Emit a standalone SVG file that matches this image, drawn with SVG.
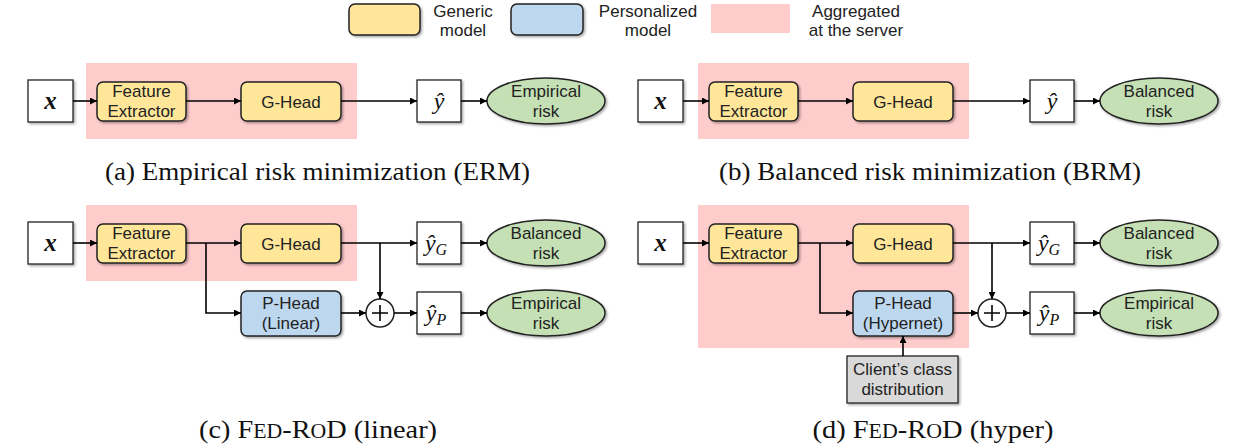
<svg xmlns="http://www.w3.org/2000/svg" width="1244" height="447" viewBox="0 0 1244 447">
<defs>
<marker id="arr" viewBox="0 0 10 10" refX="10" refY="5" markerWidth="7" markerHeight="7" orient="auto" markerUnits="userSpaceOnUse">
<path d="M0,0 L10,5 L0,10 z" fill="#000"/>
</marker>
<filter id="sh" x="-10%" y="-10%" width="130%" height="140%">
<feDropShadow dx="1.5" dy="1.5" stdDeviation="1" flood-color="#000" flood-opacity="0.35"/>
</filter>
</defs>
<style>
.gen{fill:#FFE699;stroke:#222;stroke-width:1.5;filter:url(#sh)}
.per{fill:#BDD7EE;stroke:#222;stroke-width:1.5;filter:url(#sh)}
.agg{fill:#FFCCCC;stroke:none}
.box{fill:#fff;stroke:#222;stroke-width:1.3;filter:url(#sh)}
.risk{fill:#C5E0B4;stroke:#222;stroke-width:1.5;filter:url(#sh)}
.gray{fill:#D9D9D9;stroke:#222;stroke-width:1.3;filter:url(#sh)}
.plus{fill:#fff;stroke:#222;stroke-width:1.5}
.lbl{font-family:"Liberation Sans",Arial,sans-serif;font-size:17px;fill:#222;text-anchor:middle}
.leg{font-family:"Liberation Sans",Arial,sans-serif;font-size:17px;fill:#222;text-anchor:middle}
.cap{font-family:"Liberation Serif","Times New Roman",serif;font-size:26px;fill:#111;text-anchor:middle}
.math{font-family:"Liberation Serif","Times New Roman",serif;font-style:italic;font-size:24px;fill:#111;text-anchor:middle}
.xv{font-family:"Liberation Serif","Times New Roman",serif;font-style:italic;font-weight:bold;font-size:25px;fill:#111;text-anchor:middle}
.ca{fill:none;stroke:#000;stroke-width:1.6;marker-end:url(#arr)}
</style>
<rect width="1244" height="447" fill="#fff"/>

<!-- Legend -->
<g id="legend">
<rect class="gen" x="349" y="4" width="71" height="31" rx="6"/>
<text class="leg" x="463" y="17">Generic</text>
<text class="leg" x="463" y="36">model</text>
<rect class="per" x="511" y="4" width="72" height="31" rx="6"/>
<text class="leg" x="648" y="17">Personalized</text>
<text class="leg" x="648" y="36">model</text>
<rect class="agg" x="711" y="4" width="79" height="29"/>
<text class="leg" x="856" y="17">Aggregated</text>
<text class="leg" x="856" y="36">at the server</text>
</g>

<!-- Panel (a) -->
<g id="a-agg"><rect class="agg" x="86" y="63" width="271" height="76"/></g>
<g id="a-x"><rect class="box" x="28" y="80" width="45" height="42"/><text class="xv" x="50.5" y="109">x</text></g>
<g id="a-fe"><rect class="gen" x="97" y="82" width="89" height="39" rx="6"/><text class="lbl" x="141.5" y="97">Feature</text><text class="lbl" x="141.5" y="117">Extractor</text></g>
<g id="a-gh"><rect class="gen" x="241" y="82" width="100" height="39" rx="6"/><text class="lbl" x="291" y="107.5">G-Head</text></g>
<g id="a-y"><rect class="box" x="417" y="80" width="44" height="42"/><text class="math" x="439" y="109">ŷ</text></g>
<g id="a-risk"><ellipse class="risk" cx="546" cy="101" rx="59" ry="23"/><text class="lbl" x="546" y="97">Empirical</text><text class="lbl" x="546" y="117">risk</text></g>
<g id="a-conn">
<line class="ca" x1="73" y1="101" x2="97" y2="101"/>
<line class="ca" x1="186" y1="101" x2="241" y2="101"/>
<line class="ca" x1="341" y1="101" x2="417" y2="101"/>
<line class="ca" x1="461" y1="101" x2="487" y2="101"/>
</g>
<text class="cap" x="317.5" y="180" textLength="425" lengthAdjust="spacingAndGlyphs">(a) Empirical risk minimization (ERM)</text>

<!-- Panel (b) -->
<g id="b-agg"><rect class="agg" x="698" y="63" width="271" height="76"/></g>
<g id="b-x"><rect class="box" x="638" y="80" width="45" height="42"/><text class="xv" x="660.5" y="109">x</text></g>
<g id="b-fe"><rect class="gen" x="709" y="82" width="89" height="39" rx="6"/><text class="lbl" x="753.5" y="97">Feature</text><text class="lbl" x="753.5" y="117">Extractor</text></g>
<g id="b-gh"><rect class="gen" x="853" y="82" width="100" height="39" rx="6"/><text class="lbl" x="903" y="107.5">G-Head</text></g>
<g id="b-y"><rect class="box" x="1030" y="80" width="44" height="42"/><text class="math" x="1052" y="109">ŷ</text></g>
<g id="b-risk"><ellipse class="risk" cx="1159" cy="101" rx="59" ry="23"/><text class="lbl" x="1159" y="97">Balanced</text><text class="lbl" x="1159" y="117">risk</text></g>
<g id="b-conn">
<line class="ca" x1="683" y1="101" x2="709" y2="101"/>
<line class="ca" x1="798" y1="101" x2="853" y2="101"/>
<line class="ca" x1="953" y1="101" x2="1030" y2="101"/>
<line class="ca" x1="1074" y1="101" x2="1100" y2="101"/>
</g>
<text class="cap" x="930" y="180" textLength="422" lengthAdjust="spacingAndGlyphs">(b) Balanced risk minimization (BRM)</text>

<!-- Panel (c) -->
<g id="c-agg"><rect class="agg" x="86" y="205" width="271" height="76"/></g>
<g id="c-x"><rect class="box" x="28" y="222" width="45" height="42"/><text class="xv" x="50.5" y="251">x</text></g>
<g id="c-fe"><rect class="gen" x="97" y="224" width="89" height="39" rx="6"/><text class="lbl" x="141.5" y="239">Feature</text><text class="lbl" x="141.5" y="259">Extractor</text></g>
<g id="c-gh"><rect class="gen" x="241" y="224" width="100" height="39" rx="6"/><text class="lbl" x="291" y="249.5">G-Head</text></g>
<g id="c-ph"><rect class="per" x="241" y="291" width="100" height="45" rx="6"/><text class="lbl" x="291" y="309">P-Head</text><text class="lbl" x="291" y="329">(Linear)</text></g>
<g id="c-plus"><circle class="plus" cx="380" cy="313" r="14"/><path d="M372,313 H388 M380,305 V321" stroke="#000" stroke-width="1.6"/></g>
<g id="c-yg"><rect class="box" x="417" y="222" width="44" height="42"/><text class="math" x="436" y="251">ŷ<tspan font-size="16" dy="4">G</tspan></text></g>
<g id="c-yp"><rect class="box" x="417" y="292" width="44" height="42"/><text class="math" x="436" y="321">ŷ<tspan font-size="16" dy="4">P</tspan></text></g>
<g id="c-r1"><ellipse class="risk" cx="546" cy="243" rx="59" ry="23"/><text class="lbl" x="546" y="239">Balanced</text><text class="lbl" x="546" y="259">risk</text></g>
<g id="c-r2"><ellipse class="risk" cx="546" cy="313" rx="59" ry="23"/><text class="lbl" x="546" y="309">Empirical</text><text class="lbl" x="546" y="329">risk</text></g>
<g id="c-conn">
<line class="ca" x1="73" y1="243" x2="97" y2="243"/>
<line class="ca" x1="186" y1="243" x2="241" y2="243"/>
<polyline class="ca" points="206,243 206,313 241,313"/>
<line class="ca" x1="341" y1="243" x2="417" y2="243"/>
<line class="ca" x1="380" y1="243" x2="380" y2="299"/>
<line class="ca" x1="341" y1="313" x2="366" y2="313"/>
<line class="ca" x1="394" y1="313" x2="417" y2="313"/>
<line class="ca" x1="461" y1="243" x2="487" y2="243"/>
<line class="ca" x1="461" y1="313" x2="487" y2="313"/>
</g>
<text class="cap" x="318" y="438" textLength="238" lengthAdjust="spacingAndGlyphs">(c) F<tspan font-size="20">ED</tspan>-R<tspan font-size="20">O</tspan>D (linear)</text>

<!-- Panel (d) -->
<g id="d-agg"><rect class="agg" x="698" y="205" width="271" height="143"/></g>
<g id="d-x"><rect class="box" x="638" y="222" width="45" height="42"/><text class="xv" x="660.5" y="251">x</text></g>
<g id="d-fe"><rect class="gen" x="709" y="224" width="89" height="39" rx="6"/><text class="lbl" x="753.5" y="239">Feature</text><text class="lbl" x="753.5" y="259">Extractor</text></g>
<g id="d-gh"><rect class="gen" x="853" y="224" width="100" height="39" rx="6"/><text class="lbl" x="903" y="249.5">G-Head</text></g>
<g id="d-ph"><rect class="per" x="853" y="291" width="100" height="45" rx="6"/><text class="lbl" x="903" y="309">P-Head</text><text class="lbl" x="903" y="329">(Hypernet)</text></g>
<g id="d-plus"><circle class="plus" cx="992" cy="313" r="14"/><path d="M984,313 H1000 M992,305 V321" stroke="#000" stroke-width="1.6"/></g>
<g id="d-yg"><rect class="box" x="1030" y="222" width="44" height="42"/><text class="math" x="1049" y="251">ŷ<tspan font-size="16" dy="4">G</tspan></text></g>
<g id="d-yp"><rect class="box" x="1030" y="292" width="44" height="42"/><text class="math" x="1049" y="321">ŷ<tspan font-size="16" dy="4">P</tspan></text></g>
<g id="d-r1"><ellipse class="risk" cx="1159" cy="243" rx="59" ry="23"/><text class="lbl" x="1159" y="239">Balanced</text><text class="lbl" x="1159" y="259">risk</text></g>
<g id="d-r2"><ellipse class="risk" cx="1159" cy="313" rx="59" ry="23"/><text class="lbl" x="1159" y="309">Empirical</text><text class="lbl" x="1159" y="329">risk</text></g>
<g id="d-client"><rect class="gray" x="847" y="356" width="111" height="47"/><text class="lbl" x="902.5" y="375">Client’s class</text><text class="lbl" x="902.5" y="395">distribution</text></g>
<g id="d-conn">
<line class="ca" x1="683" y1="243" x2="709" y2="243"/>
<line class="ca" x1="798" y1="243" x2="853" y2="243"/>
<polyline class="ca" points="820,243 820,313 853,313"/>
<line class="ca" x1="953" y1="243" x2="1030" y2="243"/>
<line class="ca" x1="992" y1="243" x2="992" y2="299"/>
<line class="ca" x1="953" y1="313" x2="978" y2="313"/>
<line class="ca" x1="1006" y1="313" x2="1030" y2="313"/>
<line class="ca" x1="1074" y1="243" x2="1100" y2="243"/>
<line class="ca" x1="1074" y1="313" x2="1100" y2="313"/>
<line class="ca" x1="903" y1="356" x2="903" y2="336"/>
</g>
<text class="cap" x="933" y="438" textLength="241" lengthAdjust="spacingAndGlyphs">(d) F<tspan font-size="20">ED</tspan>-R<tspan font-size="20">O</tspan>D (hyper)</text>
</svg>
